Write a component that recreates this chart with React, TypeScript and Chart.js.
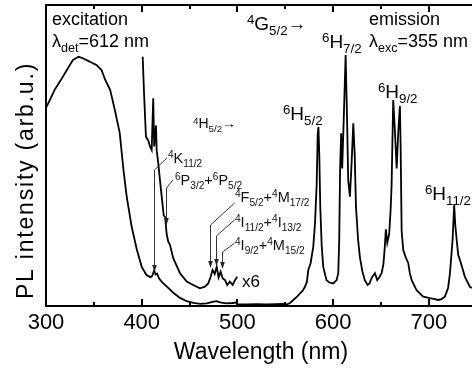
import React, { useEffect, useRef } from "react";
import { Chart, registerables } from "chart.js";

Chart.register(...registerables);

const FONT = '"Liberation Sans", Arial, Helvetica, sans-serif';

// ---- axes ----
const X_MIN = 300;
const X_MAX = 745;
const Y_MIN = 0;
const Y_MAX = 100;
const xTickLabels = [300, 400, 500, 600, 700];
const xTickMarks = [350, 400, 450, 500, 550, 600, 650, 700];

// ---- excitation spectrum (x1), lambda_det = 612 nm ----
const excWl = [300, 304, 309, 315, 322, 328, 334, 338, 343, 348, 353, 358, 362, 367, 372, 377, 381, 384.3, 389.5, 395, 400, 405, 409, 411, 413, 414.5, 416, 418, 421, 426, 433, 440, 447, 454, 461, 468, 474, 478, 482, 488, 495, 500];
const excVal = [65.8, 68.4, 71.8, 74.8, 78.5, 81.7, 82.8, 82.4, 81.6, 80.8, 80, 78.4, 75, 71.8, 65, 57.5, 45, 36.3, 26.3, 18.6, 13, 10.3, 9.6, 10, 11.8, 10.5, 10.8, 9.2, 8, 6.5, 4.4, 2.7, 1.6, 1, 0.7, 0.9, 1.4, 1.6, 1.2, 0.9, 1.0, 1.2];

// ---- excitation spectrum magnified x6 ----
const exc6Wl = [401, 402.5, 404.4, 406.8, 408.6, 410.4, 412, 413, 414.9, 415.6, 417.3, 419, 421, 423, 424.5, 426, 427.7, 429.5, 433, 440, 447, 453.8, 460.8, 466, 469.5, 472, 474, 476.2, 478.3, 480.3, 482.4, 484.5, 487, 489.3, 492, 495, 497.4, 499.8];
const exc6Val = [82.8, 70, 56.2, 55, 53, 51.8, 69, 53, 60, 51.8, 47.4, 42, 36, 30, 29.5, 24, 21.4, 20.3, 15.8, 10.9, 8.1, 7, 5.9, 6.4, 7.5, 9.7, 12, 10.6, 13, 9.5, 11.4, 9.2, 8.6, 7, 8.1, 7, 8.6, 9.7];

// ---- emission spectrum, lambda_exc = 355 nm ----
const emWl = [500, 510, 520, 530, 540, 548, 551.4, 555, 558.3, 562, 565.3, 568, 570.5, 572.5, 574, 576.4, 579.2, 581, 582.7, 583.8, 584.6, 585.5, 586.5, 588, 589.6, 593, 596, 600, 603.6, 605.3, 606.3, 607.2, 608.3, 609.4, 611, 613, 614.5, 615.7, 617.5, 619.3, 621, 622.5, 623.8, 626, 628, 630.5, 633, 636, 638, 640, 641.5, 643.6, 646, 648, 650.6, 652.5, 654, 655, 656.5, 658.5, 660, 661, 662.7, 664.5, 666.3, 668, 669.7, 670.5, 671.5, 673.2, 676, 678.4, 680, 682, 687, 694, 701, 705, 709.7, 713, 716.7, 720, 722, 724.7, 726.4, 727.5, 729, 730.6, 733, 737.6, 742.8, 745];
const emVal = [0.5, 0.5, 0.6, 0.5, 0.6, 0.7, 0.5, 1.0, 2, 3, 4.2, 5, 6.4, 8, 12, 14.2, 19.7, 27.5, 40, 57, 59.5, 50, 33, 20, 13, 8.6, 7.8, 7.5, 8.6, 10.9, 21.9, 45, 57.4, 45.7, 62, 83.4, 62, 41.9, 36.3, 48, 60.7, 50, 33, 22, 16, 11.5, 8.6, 7, 7.5, 9.2, 10, 10.9, 8.6, 9.5, 10.9, 14, 20, 25.5, 21, 24, 32, 40, 68.4, 58, 45.7, 58, 66.4, 52, 25, 18.6, 16, 14.3, 11, 8.6, 5.3, 3.1, 2.6, 2.4, 2, 2.3, 3.1, 6, 10.9, 22, 33.5, 27, 22, 17, 14.7, 9.7, 6.4, 6];

// ---- annotations (text anchored in data coordinates) ----
// seg kind: 0 normal, 1 superscript, 2 subscript
type Seg = [string, number];
type Ann = { wl: number; v: number; size: number; segs: Seg[]; color: string };
const annotations: Ann[] = [
  { wl: 306.3, v: 93.4, size: 18, color: "#000", segs: [["excitation", 0]] },
  { wl: 306.3, v: 86.0, size: 18, color: "#000", segs: [["λ", 0], ["det", 2], ["=612 nm", 0]] },
  { wl: 637.3, v: 93.4, size: 18, color: "#000", segs: [["emission", 0]] },
  { wl: 637.3, v: 86.0, size: 18, color: "#000", segs: [["λ", 0], ["exc", 2], ["=355 nm", 0]] },
  { wl: 509.9, v: 91.7, size: 19, color: "#000", segs: [["4", 1], ["G", 0], ["5/2", 2], ["→", 0]] },
  { wl: 588.3, v: 85.7, size: 19, color: "#000", segs: [["6", 1], ["H", 0], ["7/2", 2]] },
  { wl: 547.5, v: 61.8, size: 19, color: "#000", segs: [["6", 1], ["H", 0], ["5/2", 2]] },
  { wl: 646.7, v: 69.1, size: 19, color: "#000", segs: [["6", 1], ["H", 0], ["9/2", 2]] },
  { wl: 695.8, v: 35.2, size: 19, color: "#000", segs: [["6", 1], ["H", 0], ["11/2", 2]] },
  { wl: 453.5, v: 59.1, size: 14, color: "#111", segs: [["4", 1], ["H", 0], ["5/2", 2], ["→", 0]] },
  { wl: 427.4, v: 47.5, size: 14.5, color: "#111", segs: [["4", 1], ["K", 0], ["11/2", 2]] },
  { wl: 434.7, v: 40.2, size: 14.5, color: "#111", segs: [["6", 1], ["P", 0], ["3/2", 2], ["+", 0], ["6", 1], ["P", 0], ["5/2", 2]] },
  { wl: 497.4, v: 34.6, size: 14.5, color: "#111", segs: [["4", 1], ["F", 0], ["5/2", 2], ["+", 0], ["4", 1], ["M", 0], ["17/2", 2]] },
  { wl: 497.4, v: 26.2, size: 14.5, color: "#111", segs: [["4", 1], ["I", 0], ["11/2", 2], ["+", 0], ["4", 1], ["I", 0], ["13/2", 2]] },
  { wl: 497.4, v: 18.6, size: 14.5, color: "#111", segs: [["4", 1], ["I", 0], ["9/2", 2], ["+", 0], ["4", 1], ["M", 0], ["15/2", 2]] },
  { wl: 504.7, v: 6.3, size: 17, color: "#000", segs: [["x6", 0]] },
];

// leader lines: polyline then a vertical arrow down to "tip"
type Leader = { pts: [number, number][]; tip: number };
const leaders: Leader[] = [
  { pts: [[426.4, 49.2], [412.5, 45.2]], tip: 11.3 },
  { pts: [[432.6, 41.9], [425.3, 39.2]], tip: 26.9 },
  { pts: [[497.0, 34.2], [471.3, 26.9]], tip: 12.6 },
  { pts: [[497.0, 28.6], [477.5, 23.3]], tip: 13.3 },
  { pts: [[497.0, 20.9], [483.8, 17.9]], tip: 12.3 },
];

const toPts = (xs: number[], ys: number[]) => xs.map((x, i) => ({ x, y: ys[i] }));

function drawRich(ctx: CanvasRenderingContext2D, x: number, y: number, segs: Seg[], size: number) {
  let cx = x;
  for (const [t, k] of segs) {
    const s = k === 0 ? size : size * 0.7;
    const dy = k === 1 ? -size * 0.32 : k === 2 ? size * 0.28 : 0;
    ctx.font = `${s}px ${FONT}`;
    ctx.fillText(t, cx, y + dy);
    cx += ctx.measureText(t).width;
  }
}

const decorPlugin = {
  id: "decor",
  afterDraw(chart: any) {
    const { ctx, chartArea: ca, scales } = chart;
    const X = (v: number) => scales.x.getPixelForValue(v);
    const Y = (v: number) => scales.y.getPixelForValue(v);
    ctx.save();
    // inward ticks, top and bottom
    ctx.strokeStyle = "#000";
    ctx.lineWidth = 2;
    ctx.beginPath();
    for (const t of xTickMarks) {
      const px = Math.round(X(t));
      const len = t % 100 === 0 ? 7 : 4;
      ctx.moveTo(px, ca.bottom);
      ctx.lineTo(px, ca.bottom - len);
      ctx.moveTo(px, ca.top);
      ctx.lineTo(px, ca.top + len);
    }
    ctx.stroke();

    // leader arrows
    ctx.strokeStyle = "#333";
    ctx.fillStyle = "#222";
    ctx.lineWidth = 1;
    for (const l of leaders) {
      const pts = l.pts.map(([a, b]) => [X(a), Y(b)]);
      const lastX = Math.round(pts[pts.length - 1][0]) + 0.5;
      const tipY = Y(l.tip);
      ctx.beginPath();
      ctx.moveTo(pts[0][0], pts[0][1]);
      for (let i = 1; i < pts.length - 1; i++) ctx.lineTo(pts[i][0], pts[i][1]);
      ctx.lineTo(lastX, pts[pts.length - 1][1]);
      ctx.lineTo(lastX, tipY - 5);
      ctx.stroke();
      ctx.beginPath();
      ctx.moveTo(lastX, tipY);
      ctx.lineTo(lastX - 2.3, tipY - 7);
      ctx.lineTo(lastX + 2.3, tipY - 7);
      ctx.closePath();
      ctx.fill();
    }

    // annotations
    ctx.textAlign = "left";
    ctx.textBaseline = "alphabetic";
    for (const a of annotations) {
      ctx.fillStyle = a.color;
      drawRich(ctx, X(a.wl), Y(a.v), a.segs, a.size);
    }

    // axis titles
    ctx.fillStyle = "#000";
    ctx.textAlign = "center";
    ctx.font = `23px ${FONT}`;
    ctx.fillText("Wavelength (nm)", (ca.left + ca.right) / 2 + 2, ca.bottom + 53);

    ctx.save();
    ctx.translate(ca.left - 13, (ca.top + ca.bottom) / 2 + 25);
    ctx.rotate(-Math.PI / 2);
    ctx.font = `23px ${FONT}`;
    try {
      (ctx as any).letterSpacing = "1.8px";
    } catch (e) {}
    ctx.fillText("PL intensity (arb.u.)", 0, 0);
    ctx.restore();

    ctx.restore();
  },
};

export default function App() {
  const ref = useRef<HTMLCanvasElement | null>(null);

  useEffect(() => {
    document.body.style.margin = "0";
    const canvas = ref.current;
    if (!canvas) return;
    const lineDs = (data: { x: number; y: number }[]) => ({
      data,
      borderColor: "#000",
      borderWidth: 1.8,
      pointRadius: 0,
      fill: false,
      tension: 0,
    });
    const axisBase = {
      type: "linear" as const,
      grid: { display: true, drawOnChartArea: false, drawTicks: false },
      border: { display: true, color: "#000", width: 2 },
    };
    const chart = new Chart(canvas, {
      type: "line",
      data: {
        datasets: [
          lineDs(toPts(excWl, excVal)),
          lineDs(toPts(exc6Wl, exc6Val)),
          lineDs(toPts(emWl, emVal)),
        ],
      },
      options: {
        responsive: false,
        animation: false,
        devicePixelRatio: 1,
        events: [],
        layout: { padding: 0 },
        plugins: { legend: { display: false }, tooltip: { enabled: false } },
        scales: {
          x: {
            ...axisBase,
            position: "bottom",
            min: X_MIN,
            max: X_MAX,
            afterFit: (s: any) => {
              s.height = 64;
            },
            afterBuildTicks: (s: any) => {
              s.ticks = xTickLabels.map((v) => ({ value: v }));
            },
            ticks: {
              autoSkip: false,
              maxRotation: 0,
              padding: 4,
              color: "#000",
              font: { size: 22, family: FONT },
            },
          },
          x2: {
            ...axisBase,
            position: "top",
            min: X_MIN,
            max: X_MAX,
            afterFit: (s: any) => {
              s.height = 5;
            },
            ticks: { display: false },
          },
          y: {
            ...axisBase,
            position: "left",
            min: Y_MIN,
            max: Y_MAX,
            afterFit: (s: any) => {
              s.width = 46;
            },
            ticks: { display: false },
          },
        },
      } as any,
      plugins: [decorPlugin],
    });
    return () => chart.destroy();
  }, []);

  return (
    <div style={{ width: 472, height: 370 }}>
      <canvas ref={ref} width={472} height={370} style={{ width: 472, height: 370, display: "block" }} />
    </div>
  );
}
